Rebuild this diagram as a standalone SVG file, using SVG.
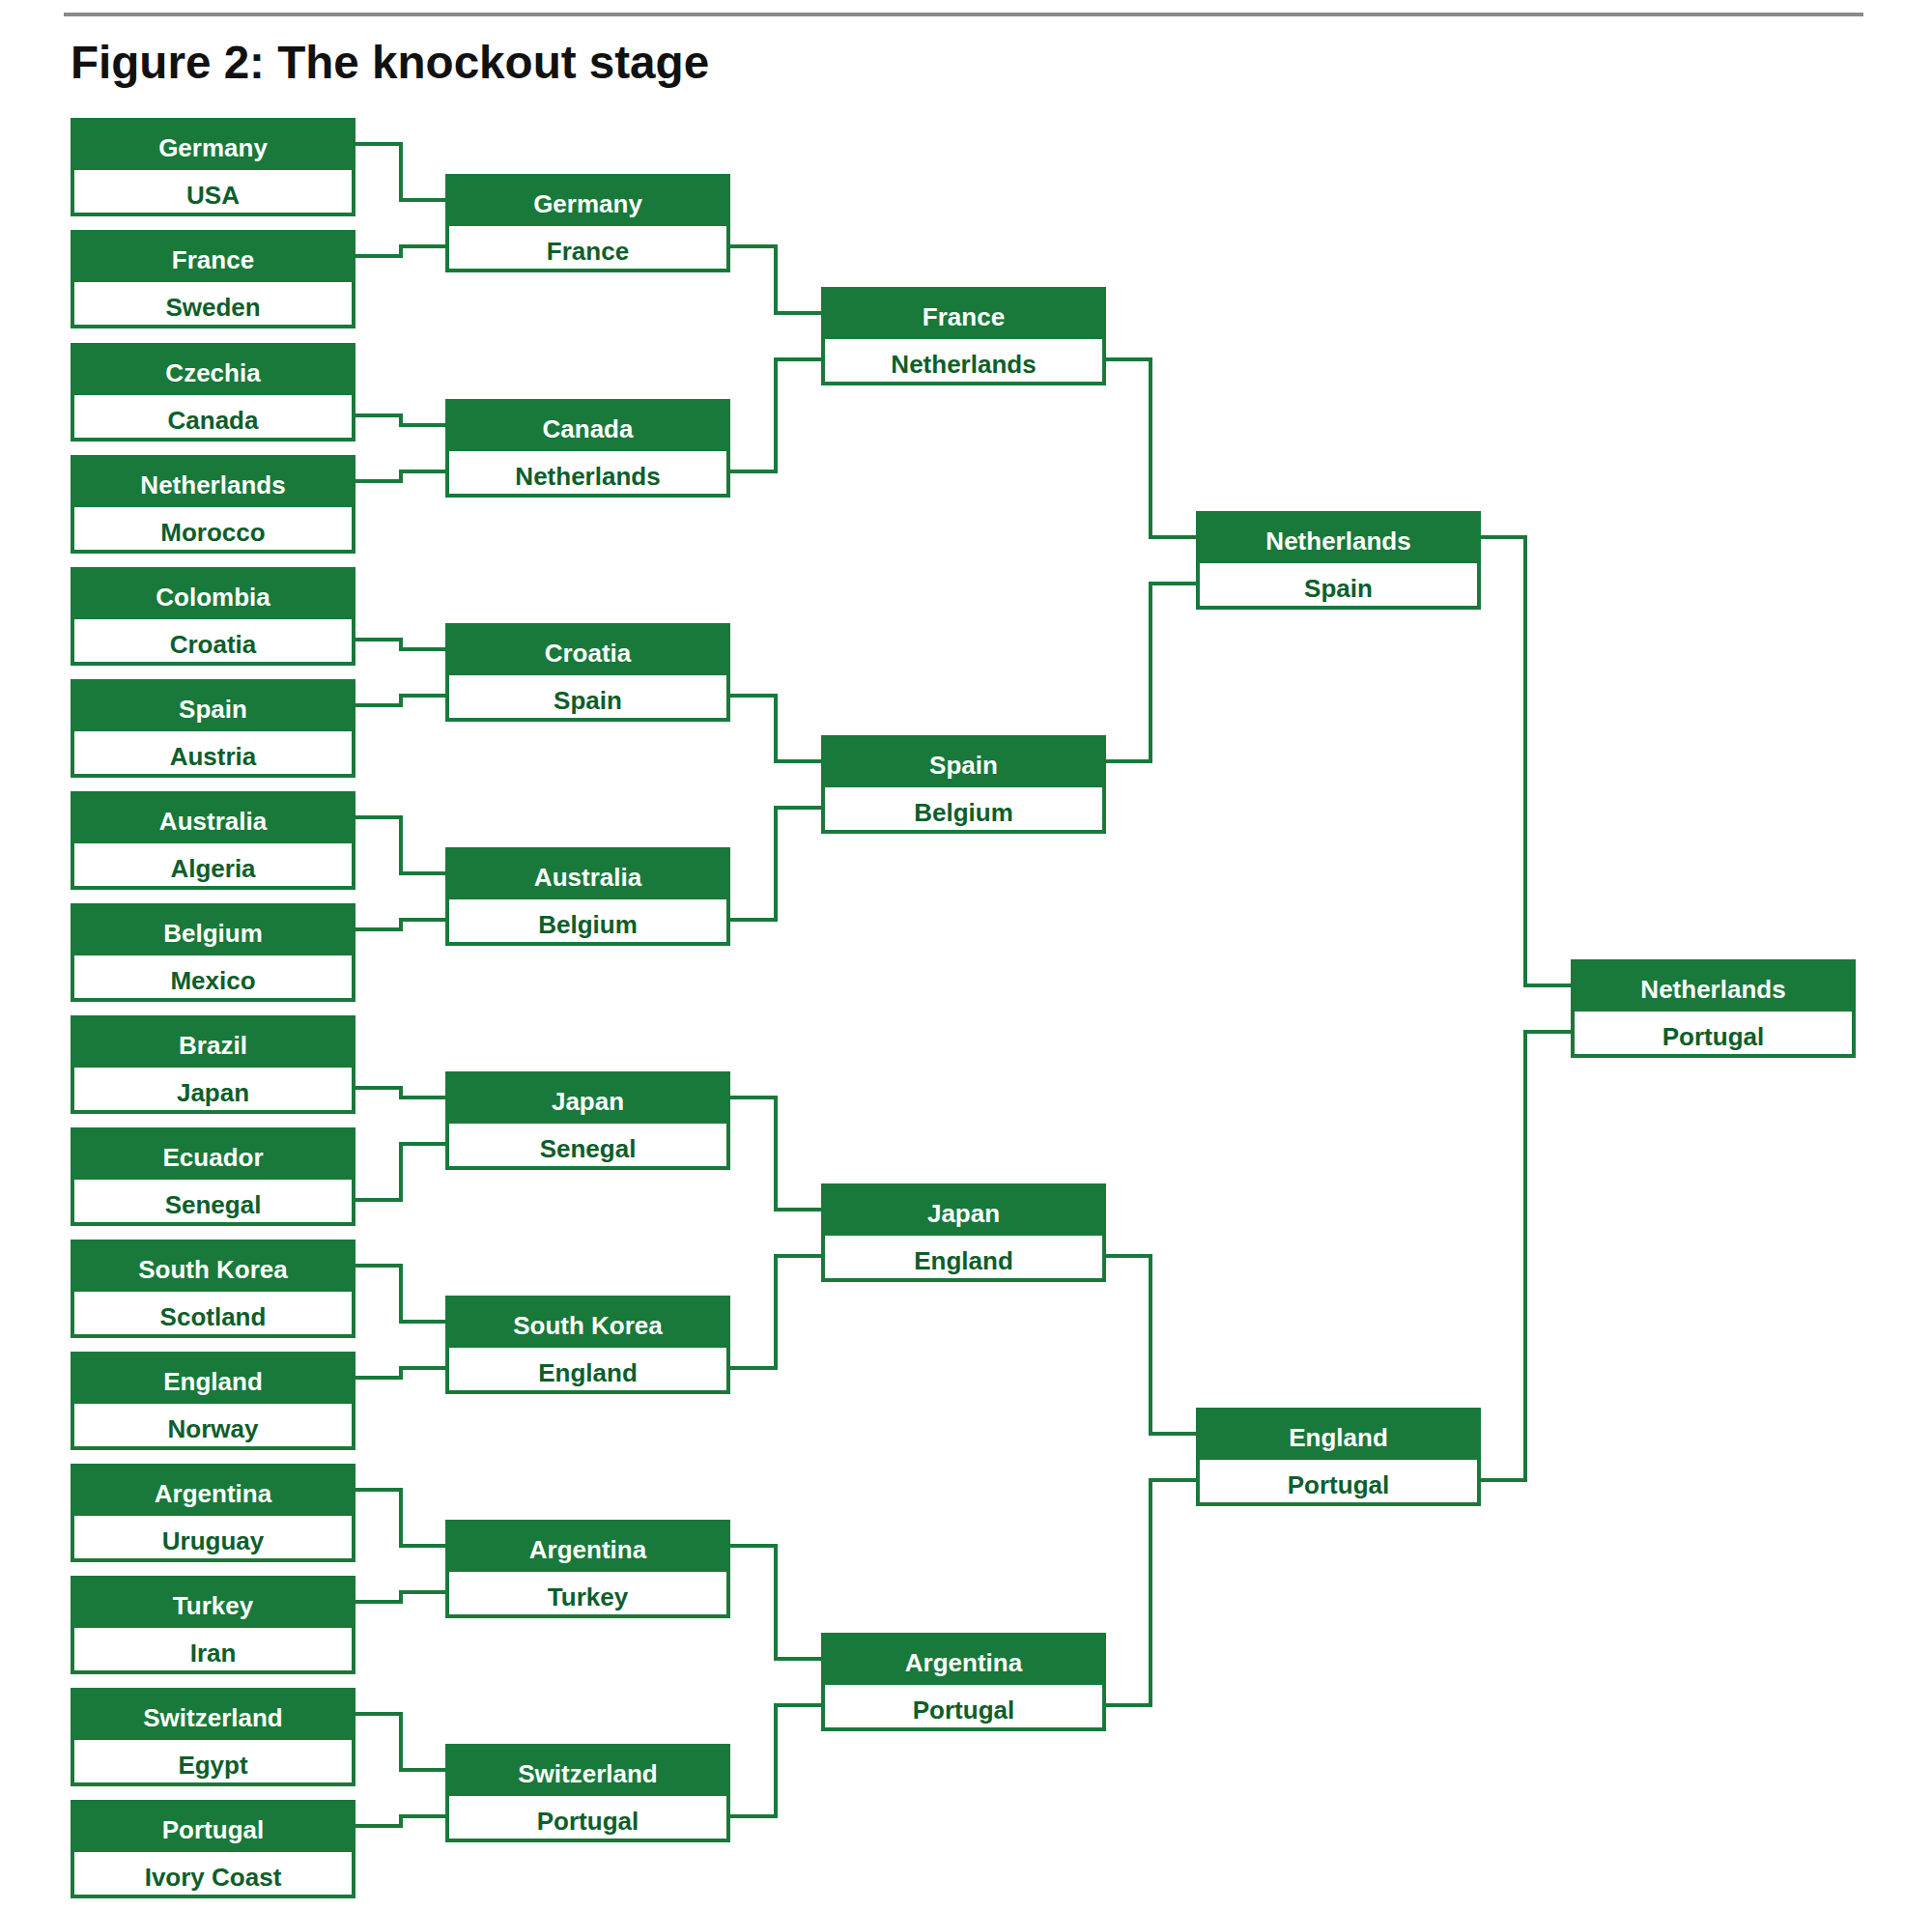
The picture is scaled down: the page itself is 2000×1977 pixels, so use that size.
<svg xmlns="http://www.w3.org/2000/svg" width="2000" height="1977" viewBox="0 0 2000 1977">
<style>
.bg{fill:#ffffff}
.box{fill:#18793a}
.inner{fill:#ffffff}
.ht{font-family:"Liberation Sans",Arial,sans-serif;font-weight:bold;font-size:26px;fill:#ffffff;text-anchor:middle}
.lt{font-family:"Liberation Sans",Arial,sans-serif;font-weight:bold;font-size:26px;fill:#0d5e2b;text-anchor:middle}
.title{font-family:"Liberation Sans",Arial,sans-serif;font-weight:bold;font-size:47.6px;fill:#111111}
.conn path{fill:none;stroke:#18793a;stroke-width:4}
</style>
<rect class="bg" x="0" y="0" width="2000" height="1977"/>
<line x1="66" y1="15" x2="1929" y2="15" stroke="#8a8a8a" stroke-width="4"/>
<text class="title" x="73" y="81">Figure 2: The knockout stage</text>

<g id="connectors" class="conn">
<path d="M368,149 H415 V207 H461"/>
<path d="M368,265 H415 V255 H461"/>
<path d="M368,430 H415 V440 H461"/>
<path d="M368,498 H415 V488 H461"/>
<path d="M368,662 H415 V672 H461"/>
<path d="M368,730 H415 V720 H461"/>
<path d="M368,846 H415 V904 H461"/>
<path d="M368,962 H415 V952 H461"/>
<path d="M368,1126 H415 V1136 H461"/>
<path d="M368,1242 H415 V1184 H461"/>
<path d="M368,1310 H415 V1368 H461"/>
<path d="M368,1426 H415 V1416 H461"/>
<path d="M368,1542 H415 V1600 H461"/>
<path d="M368,1658 H415 V1648 H461"/>
<path d="M368,1774 H415 V1832 H461"/>
<path d="M368,1890 H415 V1880 H461"/>
<path d="M756,255 H803 V324 H850"/>
<path d="M756,488 H803 V372 H850"/>
<path d="M756,720 H803 V788 H850"/>
<path d="M756,952 H803 V836 H850"/>
<path d="M756,1136 H803 V1252 H850"/>
<path d="M756,1416 H803 V1300 H850"/>
<path d="M756,1600 H803 V1717 H850"/>
<path d="M756,1880 H803 V1765 H850"/>
<path d="M1145,372 H1191 V556 H1238"/>
<path d="M1145,788 H1191 V604 H1238"/>
<path d="M1145,1300 H1191 V1484 H1238"/>
<path d="M1145,1765 H1191 V1532 H1238"/>
<path d="M1533,556 H1579 V1020 H1626"/>
<path d="M1533,1532 H1579 V1068 H1626"/>
</g>

<g id="r1-1"><rect class="box" x="73" y="122" width="295" height="102"/><rect class="inner" x="77" y="176" width="287" height="44"/><text class="ht" x="220.5" y="162">Germany</text><text class="lt" x="220.5" y="211">USA</text></g>
<g id="r1-2"><rect class="box" x="73" y="238" width="295" height="102"/><rect class="inner" x="77" y="292" width="287" height="44"/><text class="ht" x="220.5" y="278">France</text><text class="lt" x="220.5" y="327">Sweden</text></g>
<g id="r1-3"><rect class="box" x="73" y="355" width="295" height="102"/><rect class="inner" x="77" y="409" width="287" height="44"/><text class="ht" x="220.5" y="395">Czechia</text><text class="lt" x="220.5" y="444">Canada</text></g>
<g id="r1-4"><rect class="box" x="73" y="471" width="295" height="102"/><rect class="inner" x="77" y="525" width="287" height="44"/><text class="ht" x="220.5" y="511">Netherlands</text><text class="lt" x="220.5" y="560">Morocco</text></g>
<g id="r1-5"><rect class="box" x="73" y="587" width="295" height="102"/><rect class="inner" x="77" y="641" width="287" height="44"/><text class="ht" x="220.5" y="627">Colombia</text><text class="lt" x="220.5" y="676">Croatia</text></g>
<g id="r1-6"><rect class="box" x="73" y="703" width="295" height="102"/><rect class="inner" x="77" y="757" width="287" height="44"/><text class="ht" x="220.5" y="743">Spain</text><text class="lt" x="220.5" y="792">Austria</text></g>
<g id="r1-7"><rect class="box" x="73" y="819" width="295" height="102"/><rect class="inner" x="77" y="873" width="287" height="44"/><text class="ht" x="220.5" y="859">Australia</text><text class="lt" x="220.5" y="908">Algeria</text></g>
<g id="r1-8"><rect class="box" x="73" y="935" width="295" height="102"/><rect class="inner" x="77" y="989" width="287" height="44"/><text class="ht" x="220.5" y="975">Belgium</text><text class="lt" x="220.5" y="1024">Mexico</text></g>
<g id="r1-9"><rect class="box" x="73" y="1051" width="295" height="102"/><rect class="inner" x="77" y="1105" width="287" height="44"/><text class="ht" x="220.5" y="1091">Brazil</text><text class="lt" x="220.5" y="1140">Japan</text></g>
<g id="r1-10"><rect class="box" x="73" y="1167" width="295" height="102"/><rect class="inner" x="77" y="1221" width="287" height="44"/><text class="ht" x="220.5" y="1207">Ecuador</text><text class="lt" x="220.5" y="1256">Senegal</text></g>
<g id="r1-11"><rect class="box" x="73" y="1283" width="295" height="102"/><rect class="inner" x="77" y="1337" width="287" height="44"/><text class="ht" x="220.5" y="1323">South Korea</text><text class="lt" x="220.5" y="1372">Scotland</text></g>
<g id="r1-12"><rect class="box" x="73" y="1399" width="295" height="102"/><rect class="inner" x="77" y="1453" width="287" height="44"/><text class="ht" x="220.5" y="1439">England</text><text class="lt" x="220.5" y="1488">Norway</text></g>
<g id="r1-13"><rect class="box" x="73" y="1515" width="295" height="102"/><rect class="inner" x="77" y="1569" width="287" height="44"/><text class="ht" x="220.5" y="1555">Argentina</text><text class="lt" x="220.5" y="1604">Uruguay</text></g>
<g id="r1-14"><rect class="box" x="73" y="1631" width="295" height="102"/><rect class="inner" x="77" y="1685" width="287" height="44"/><text class="ht" x="220.5" y="1671">Turkey</text><text class="lt" x="220.5" y="1720">Iran</text></g>
<g id="r1-15"><rect class="box" x="73" y="1747" width="295" height="102"/><rect class="inner" x="77" y="1801" width="287" height="44"/><text class="ht" x="220.5" y="1787">Switzerland</text><text class="lt" x="220.5" y="1836">Egypt</text></g>
<g id="r1-16"><rect class="box" x="73" y="1863" width="295" height="102"/><rect class="inner" x="77" y="1917" width="287" height="44"/><text class="ht" x="220.5" y="1903">Portugal</text><text class="lt" x="220.5" y="1952">Ivory Coast</text></g>

<g id="r2-1"><rect class="box" x="461" y="180" width="295" height="102"/><rect class="inner" x="465" y="234" width="287" height="44"/><text class="ht" x="608.5" y="220">Germany</text><text class="lt" x="608.5" y="269">France</text></g>
<g id="r2-2"><rect class="box" x="461" y="413" width="295" height="102"/><rect class="inner" x="465" y="467" width="287" height="44"/><text class="ht" x="608.5" y="453">Canada</text><text class="lt" x="608.5" y="502">Netherlands</text></g>
<g id="r2-3"><rect class="box" x="461" y="645" width="295" height="102"/><rect class="inner" x="465" y="699" width="287" height="44"/><text class="ht" x="608.5" y="685">Croatia</text><text class="lt" x="608.5" y="734">Spain</text></g>
<g id="r2-4"><rect class="box" x="461" y="877" width="295" height="102"/><rect class="inner" x="465" y="931" width="287" height="44"/><text class="ht" x="608.5" y="917">Australia</text><text class="lt" x="608.5" y="966">Belgium</text></g>
<g id="r2-5"><rect class="box" x="461" y="1109" width="295" height="102"/><rect class="inner" x="465" y="1163" width="287" height="44"/><text class="ht" x="608.5" y="1149">Japan</text><text class="lt" x="608.5" y="1198">Senegal</text></g>
<g id="r2-6"><rect class="box" x="461" y="1341" width="295" height="102"/><rect class="inner" x="465" y="1395" width="287" height="44"/><text class="ht" x="608.5" y="1381">South Korea</text><text class="lt" x="608.5" y="1430">England</text></g>
<g id="r2-7"><rect class="box" x="461" y="1573" width="295" height="102"/><rect class="inner" x="465" y="1627" width="287" height="44"/><text class="ht" x="608.5" y="1613">Argentina</text><text class="lt" x="608.5" y="1662">Turkey</text></g>
<g id="r2-8"><rect class="box" x="461" y="1805" width="295" height="102"/><rect class="inner" x="465" y="1859" width="287" height="44"/><text class="ht" x="608.5" y="1845">Switzerland</text><text class="lt" x="608.5" y="1894">Portugal</text></g>

<g id="r3-1"><rect class="box" x="850" y="297" width="295" height="102"/><rect class="inner" x="854" y="351" width="287" height="44"/><text class="ht" x="997.5" y="337">France</text><text class="lt" x="997.5" y="386">Netherlands</text></g>
<g id="r3-2"><rect class="box" x="850" y="761" width="295" height="102"/><rect class="inner" x="854" y="815" width="287" height="44"/><text class="ht" x="997.5" y="801">Spain</text><text class="lt" x="997.5" y="850">Belgium</text></g>
<g id="r3-3"><rect class="box" x="850" y="1225" width="295" height="102"/><rect class="inner" x="854" y="1279" width="287" height="44"/><text class="ht" x="997.5" y="1265">Japan</text><text class="lt" x="997.5" y="1314">England</text></g>
<g id="r3-4"><rect class="box" x="850" y="1690" width="295" height="102"/><rect class="inner" x="854" y="1744" width="287" height="44"/><text class="ht" x="997.5" y="1730">Argentina</text><text class="lt" x="997.5" y="1779">Portugal</text></g>

<g id="r4-1"><rect class="box" x="1238" y="529" width="295" height="102"/><rect class="inner" x="1242" y="583" width="287" height="44"/><text class="ht" x="1385.5" y="569">Netherlands</text><text class="lt" x="1385.5" y="618">Spain</text></g>
<g id="r4-2"><rect class="box" x="1238" y="1457" width="295" height="102"/><rect class="inner" x="1242" y="1511" width="287" height="44"/><text class="ht" x="1385.5" y="1497">England</text><text class="lt" x="1385.5" y="1546">Portugal</text></g>

<g id="final"><rect class="box" x="1626" y="993" width="295" height="102"/><rect class="inner" x="1630" y="1047" width="287" height="44"/><text class="ht" x="1773.5" y="1033">Netherlands</text><text class="lt" x="1773.5" y="1082">Portugal</text></g>
</svg>
